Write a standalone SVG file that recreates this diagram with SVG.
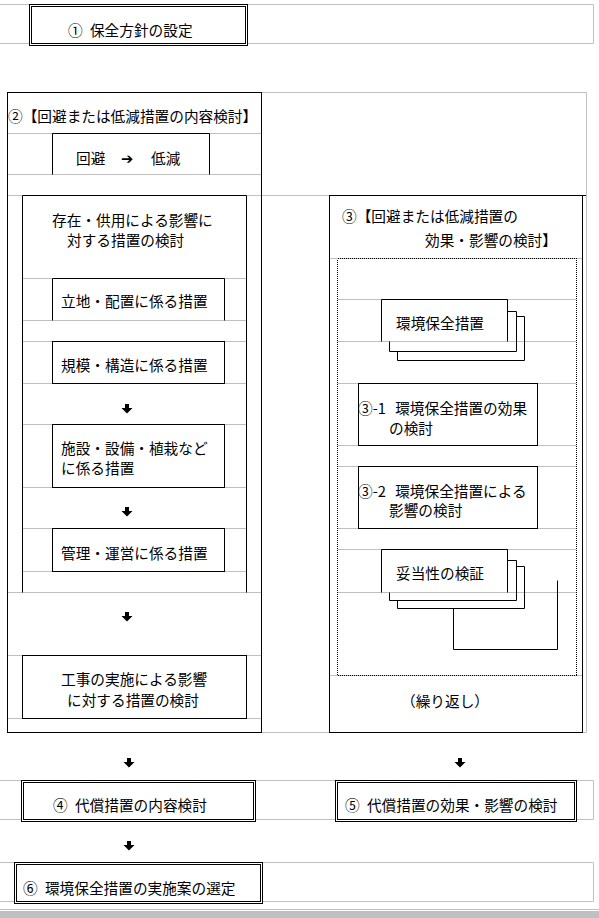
<svg xmlns="http://www.w3.org/2000/svg" width="599" height="918" viewBox="0 0 599 918">
<style>
.g{stroke:#c0c0c0;stroke-width:1;fill:none}
.b{stroke:#000;stroke-width:1;fill:none}
.bw{stroke:#000;stroke-width:1;fill:#fff}
.d{stroke:#000;stroke-width:1;fill:none;stroke-dasharray:1 1;shape-rendering:crispEdges}
.t{font-family:"Noto Sans CJK JP","Noto Sans CJK SC",sans-serif;font-size:14.67px;fill:#000}
.ar{fill:#000}
</style>
<defs>
<path id="dn" d="M-2 0H2V4H5.5L0 9.5L-5.5 4H-2Z"/>
</defs>
<rect width="599" height="918" fill="#fff"/>
<g id="grid" class="g">
<path d="M0 4.5H593.5V43.5H0"/>
<path d="M0 780.5H593.5V819.5H0"/>
<path d="M0 862.5H593.5V901.5H0"/>
<path d="M261.5 92.5H586.5V732.5H261.5"/>
<path d="M7.5 133.5H261.5M7.5 174.5H261.5M7.5 195.5H329.5M22.5 278.5H246.5M22.5 320.5H246.5M22.5 341.5H246.5M22.5 383.5H246.5M22.5 424.5H246.5M22.5 487.5H246.5M22.5 528.5H246.5M22.5 571.5H246.5M7.5 592.5H261.5M7.5 655.5H261.5M7.5 718.5H261.5"/>
<path d="M329.5 258.5H582.5M337.5 299.5H576.5M337.5 341.5H576.5M337.5 383.5H576.5M337.5 445.5H576.5M337.5 466.5H576.5M337.5 528.5H576.5M337.5 549.5H576.5M337.5 592.5H576.5M329.5 675.5H582.5"/>
<path d="M0 909.5H599"/>
</g>
<rect x="0" y="911" width="599" height="7" fill="#c0c0c0"/>

<g id="n1">
<rect class="bw" x="29.5" y="4.5" width="218" height="41"/>
<rect class="b" x="31.5" y="6.5" width="214" height="37"/>
<text class="t" x="68" y="36" word-spacing="4">① 保全方針の設定</text>
</g>

<g id="n2">
<rect class="b" x="7.5" y="92.5" width="254" height="640"/>
<text class="t" x="8" y="122">②【回避または低減措置の内容検討】</text>
</g>

<g id="n2a">
<path class="b" d="M52.5 174.5V133.5H209.5V174.5"/>
<text class="t" y="164"><tspan x="76">回避 </tspan><tspan x="121" style="font-family:'DejaVu Sans',sans-serif;font-weight:bold">➔ </tspan><tspan x="151">低減</tspan></text>
</g>

<g id="n2b">
<path class="b" d="M22.5 592.5V195.5H246.5V592.5"/>
<text class="t" x="52" y="226">存在・供用による影響に</text>
<text class="t" x="67" y="246">対する措置の検討</text>
</g>

<g id="n2b1">
<path class="b" d="M52.5 320.5V278.5H224.5V320.5"/>
<text class="t" x="61" y="307">立地・配置に係る措置</text>
</g>

<g id="n2b2">
<rect class="b" x="52.5" y="341.5" width="172" height="42"/>
<text class="t" x="61" y="371">規模・構造に係る措置</text>
</g>

<g id="n2b3">
<rect class="b" x="52.5" y="424.5" width="172" height="63"/>
<text class="t" x="61" y="454">施設・設備・植栽など</text>
<text class="t" x="61" y="474">に係る措置</text>
</g>

<g id="n2b4">
<rect class="b" x="52.5" y="528.5" width="172" height="43"/>
<text class="t" x="61" y="559">管理・運営に係る措置</text>
</g>

<g id="n2c">
<rect class="b" x="22.5" y="655.5" width="224" height="63"/>
<text class="t" x="61" y="685">工事の実施による影響</text>
<text class="t" x="67" y="706">に対する措置の検討</text>
</g>

<g id="n3">
<rect class="b" x="329.5" y="195.5" width="253" height="537"/>
<path class="b" d="M582.5 195.5H586"/>
<text class="t" x="342" y="222">③【回避または低減措置の</text>
<text class="t" x="425" y="246">効果・影響の検討】</text>
<rect class="d" x="337.5" y="258.5" width="239" height="417"/>
<text class="t" x="445" y="707" text-anchor="middle">（繰り返し）</text>
</g>

<g id="n3a">
<path class="b" d="M381.5 341.5V299.5H507.5V341.5"/>
<path class="b" d="M507.5 311.5H516.5V351.5H389.5V341.5"/>
<path class="b" d="M516.5 316.5H524.5V360.5H397.5V351.5"/>
<text class="t" x="396" y="329">環境保全措置</text>
</g>

<g id="n3b">
<rect class="b" x="358.5" y="383.5" width="179" height="62"/>
<text class="t" x="358" y="414" word-spacing="6">③-1 環境保全措置の効果</text>
<text class="t" x="389" y="434">の検討</text>
</g>

<g id="n3c">
<rect class="b" x="358.5" y="466.5" width="179" height="62"/>
<text class="t" x="358" y="497" word-spacing="6">③-2 環境保全措置による</text>
<text class="t" x="389" y="516">影響の検討</text>
</g>

<g id="n3d">
<path class="b" d="M381.5 592.5V549.5H507.5V592.5"/>
<path class="b" d="M507.5 560.5H516.5V600.5H389.5V592.5"/>
<path class="b" d="M516.5 566.5H524.5V608.5H397.5V600.5"/>
<text class="t" x="396" y="579">妥当性の検証</text>
</g>

<g id="n4">
<rect class="bw" x="21.5" y="780.5" width="234" height="41"/>
<rect class="b" x="23.5" y="782.5" width="230" height="37"/>
<text class="t" x="53" y="811" word-spacing="4">④ 代償措置の内容検討</text>
</g>

<g id="n5">
<rect class="bw" x="335.5" y="780.5" width="241" height="41"/>
<rect class="b" x="337.5" y="782.5" width="237" height="37"/>
<text class="t" x="345" y="811" word-spacing="4">⑤ 代償措置の効果・影響の検討</text>
</g>

<g id="n6">
<rect class="bw" x="14.5" y="862.5" width="248" height="41"/>
<rect class="b" x="16.5" y="864.5" width="244" height="37"/>
<text class="t" x="23" y="894" word-spacing="4">⑥ 環境保全措置の実施案の選定</text>
</g>

<g id="connectors">
<use href="#dn" class="ar" x="127" y="404"/>
<use href="#dn" class="ar" x="127" y="507"/>
<use href="#dn" class="ar" x="127" y="612"/>
<use href="#dn" class="ar" x="129" y="758"/>
<use href="#dn" class="ar" x="460" y="758"/>
<use href="#dn" class="ar" x="129" y="841"/>
<path class="b" d="M453.5 608.5V649.5H557.5V580.5"/>
</g>
</svg>
